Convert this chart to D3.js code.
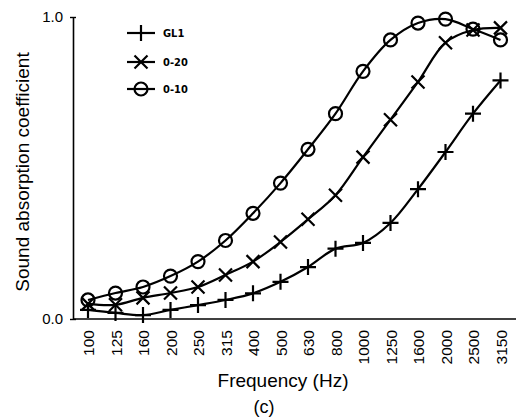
<!DOCTYPE html>
<html>
<head>
<meta charset="utf-8">
<script src="https://cdn.jsdelivr.net/npm/d3@7"></script>
<style>
    body { margin: 0; background: #fff; }
    .chart text { font-family: "Liberation Sans", Arial, sans-serif; fill: #000; }
    .axis path { stroke: #000; stroke-width: 1.6; }
    .axis line { stroke: #000; stroke-width: 1.4; }
    .series { fill: none; stroke: #000; stroke-width: 2.2; }
    .marker { fill: none; stroke: #000; stroke-width: 2.2; }
    .legendText { font-family: "DejaVu Sans Condensed", "DejaVu Sans", sans-serif !important; font-weight: bold; font-size: 11px; }
</style>
</head>
<body>
<script>
(function(){

    //one-third octave band centres (Hz)
    var frequencies = ["100", "125", "160", "200", "250", "315", "400", "500", "630", "800", "1000", "1250", "1600", "2000", "2500", "3150"];

    //absorption coefficients for each sample
    var gl1 = [0.03, 0.02, 0.013, 0.03, 0.046, 0.063, 0.085, 0.123, 0.172, 0.233, 0.252, 0.318, 0.43, 0.553, 0.68, 0.79];
    var d20 = [0.05, 0.047, 0.07, 0.086, 0.106, 0.146, 0.19, 0.255, 0.33, 0.41, 0.536, 0.66, 0.785, 0.915, 0.957, 0.964];
    var d10 = [0.063, 0.086, 0.106, 0.142, 0.19, 0.26, 0.35, 0.45, 0.562, 0.68, 0.82, 0.924, 0.98, 0.993, 0.96, 0.924];

    var seriesNames = ["GL1", "0-20", "0-10"];
    var seriesShapes = ["plus", "cross", "circle"];
    var yTicks = [0, 1];

    window.onload = setChart();

    function setChart(){

        var width = 516,
            height = 419,
            axisX = 73,
            axisY = 319,
            topY = 17;

        var chart = d3.select("body")
            .append("svg")
            .attr("class", "chart")
            .attr("width", width)
            .attr("height", height);

        //scales
        var xScale = d3.scalePoint()
            .domain(frequencies)
            .range([88, 500.5]);

        var yScale = d3.scaleLinear()
            .domain([0, 1])
            .range([axisY, topY]);

        //x axis: plain baseline with rotated band labels
        var xAxis = d3.axisBottom(xScale)
            .tickSize(0)
            .tickSizeOuter(0);

        var gx = chart.append("g")
            .attr("class", "axis")
            .attr("transform", "translate(0," + axisY + ")")
            .call(xAxis);

        gx.select(".domain").attr("d", "M" + axisX + ",0H" + width);

        gx.selectAll("text")
            .attr("transform", "rotate(-90)")
            .attr("x", -11)
            .attr("y", 0)
            .attr("dy", "0.36em")
            .style("text-anchor", "end")
            .style("font-size", "15.5px");

        //y axis with only the end values
        var yAxis = d3.axisLeft(yScale)
            .tickValues(yTicks)
            .tickFormat(d3.format(".1f"))
            .tickSizeInner(3)
            .tickSizeOuter(0);

        var gy = chart.append("g")
            .attr("class", "axis")
            .attr("transform", "translate(" + axisX + ",0)")
            .call(yAxis);

        gy.selectAll(".tick line").attr("x1", -3).attr("x2", 3);
        gy.selectAll(".tick text")
            .attr("x", -10)
            .style("font-size", "15px");

        //axis titles
        chart.append("text")
            .attr("transform", "translate(29," + ((topY + axisY) / 2 + 4) + ") rotate(-90)")
            .style("text-anchor", "middle")
            .style("font-size", "19px")
            .text("Sound absorption coefficient");

        chart.append("text")
            .attr("x", 283)
            .attr("y", 387)
            .style("text-anchor", "middle")
            .style("font-size", "19px")
            .text("Frequency (Hz)");

        chart.append("text")
            .attr("x", 264)
            .attr("y", 413)
            .style("text-anchor", "middle")
            .style("font-size", "18px")
            .text("(c)");

        //curves
        var line = d3.line()
            .x(function(d, i){ return xScale(frequencies[i]); })
            .y(function(d){ return yScale(d); })
            .curve(d3.curveCatmullRom.alpha(0.5));

        var allSeries = [gl1, d20, d10];

        allSeries.forEach(function(values, s){
            chart.append("path")
                .datum(values)
                .attr("class", "series")
                .attr("d", line);

            values.forEach(function(v, i){
                drawMarker(chart, seriesShapes[s], xScale(frequencies[i]), yScale(v));
            });
        });

        //legend
        var legendY = [33, 62, 89];
        seriesNames.forEach(function(name, s){
            chart.append("line")
                .attr("class", "series")
                .attr("x1", 127)
                .attr("x2", 155)
                .attr("y1", legendY[s])
                .attr("y2", legendY[s]);
            drawMarker(chart, seriesShapes[s], 141, legendY[s]);
            chart.append("text")
                .attr("class", "legendText")
                .attr("x", 163)
                .attr("y", legendY[s])
                .attr("dy", "0.36em")
                .text(name);
        });
    };

    //draw one point symbol centred on (cx, cy)
    function drawMarker(svg, shape, cx, cy){
        if (shape == "circle") {
            svg.append("circle")
                .attr("class", "marker")
                .attr("cx", cx)
                .attr("cy", cy)
                .attr("r", 6.5);
        } else if (shape == "plus") {
            var p = 8;
            svg.append("path")
                .attr("class", "marker")
                .attr("d", "M" + (cx - p) + "," + cy + "H" + (cx + p) + "M" + cx + "," + (cy - p) + "V" + (cy + p));
        } else {
            var c = 6.5;
            svg.append("path")
                .attr("class", "marker")
                .attr("d", "M" + (cx - c) + "," + (cy - c) + "L" + (cx + c) + "," + (cy + c) +
                    "M" + (cx - c) + "," + (cy + c) + "L" + (cx + c) + "," + (cy - c));
        }
    };
})();
</script>
</body>
</html>
